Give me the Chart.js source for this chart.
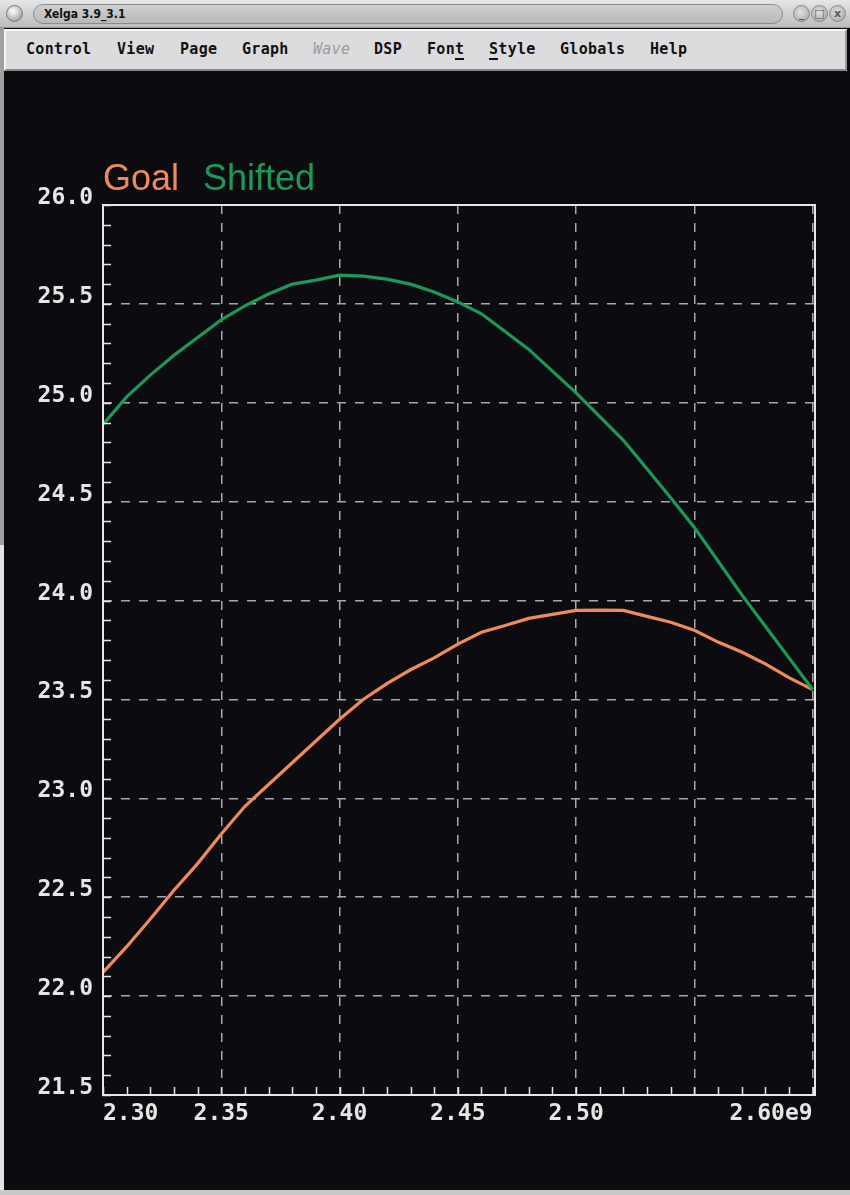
<!DOCTYPE html>
<html>
<head>
<meta charset="utf-8">
<title>Xelga 3.9_3.1</title>
<script src="https://cdn.jsdelivr.net/npm/chart.js@4/dist/chart.umd.min.js"></script>
<style>
  html, body { margin: 0; padding: 0; }
  body { width: 850px; height: 1195px; overflow: hidden; background: #0c0b10; position: relative; font-family: "DejaVu Sans", sans-serif; }
  #titlebar { position: absolute; left: 0; top: 0; width: 850px; height: 28px;
    background: linear-gradient(#e6e6e6, #bdbdbd); border-bottom: 1px solid #9a9a9a; box-sizing: border-box; }
  #wmbtn { position: absolute; left: 6px; top: 5px; width: 17px; height: 17px; border-radius: 50%;
    background: radial-gradient(circle at 40% 35%, #ffffff 0%, #d0d0d0 40%, #8a8a8a 100%); border: 1px solid #7a7a7a; box-sizing: border-box; }
  #caption { position: absolute; left: 33px; top: 4px; width: 750px; height: 20px; border-radius: 10px;
    background: linear-gradient(#cfcfcf, #b9b9b9); border: 1px solid #8c8c8c; box-sizing: border-box;
    font: bold 12px "DejaVu Sans Condensed", "DejaVu Sans", sans-serif; color: #111; line-height: 18px; padding-left: 10px; }
  .wbtn { position: absolute; top: 5px; width: 17px; height: 17px; border-radius: 50%;
    background: radial-gradient(circle at 45% 40%, #e2e2e2 0%, #b4b4b4 70%, #8e8e8e 100%); border: 1px solid #8a8a8a; box-sizing: border-box;
    font: bold 11px "DejaVu Sans", sans-serif; color: #555; text-align: center; line-height: 15px; }
  #menubar { position: absolute; left: 4px; top: 29px; width: 843px; height: 42px; background: #dcdcdf;
    border-top: 2px solid #f6f6f6; border-left: 2px solid #f6f6f6; border-right: 2px solid #9a9a9a; border-bottom: 2px solid #8a8a8a; box-sizing: border-box; }
  .mi { position: absolute; top: 9px; font: bold 15px "DejaVu Sans Mono", monospace; color: #111; letter-spacing: 0.3px; }
  .mi.off { color: #9a9a9a; font-style: italic; font-weight: normal; }
  .mi u { text-decoration: none; border-bottom: 2px solid #111; }
  #leftframe1 { position: absolute; left: 0; top: 28px; width: 4px; height: 517px; background: #a0a0a0; }
  #leftframe2 { position: absolute; left: 0; top: 545px; width: 4px; height: 650px; background: #e4e4e4; }
  #bottomframe { position: absolute; left: 0; top: 1190px; width: 850px; height: 5px; background: #c8c8c8; }
  #plot { position: absolute; left: 0; top: 72px; }
</style>
</head>
<body>
<div id="titlebar">
  <div id="wmbtn"></div>
  <div id="caption">Xelga 3.9_3.1</div>
  <div class="wbtn" style="left:793px">_</div>
  <div class="wbtn" style="left:811px">□</div>
  <div class="wbtn" style="left:829px">x</div>
</div>
<div id="menubar">
  <span class="mi" style="left:20px">Control</span>
  <span class="mi" style="left:111px">View</span>
  <span class="mi" style="left:174px">Page</span>
  <span class="mi" style="left:236px">Graph</span>
  <span class="mi off" style="left:307px">Wave</span>
  <span class="mi" style="left:368px">DSP</span>
  <span class="mi" style="left:421px">Fon<u>t</u></span>
  <span class="mi" style="left:483px"><u>S</u>tyle</span>
  <span class="mi" style="left:554px">Globals</span>
  <span class="mi" style="left:644px">Help</span>
</div>
<div id="leftframe1"></div>
<div id="leftframe2"></div>
<div id="bottomframe"></div>
<canvas id="plot" width="850" height="1118"></canvas>

<script>
// Frequency sweep (GHz); the axis labels carry the e9 exponent.
const freqGHz = [2.30, 2.31, 2.32, 2.33, 2.34, 2.35, 2.36, 2.37, 2.38, 2.39,
                 2.40, 2.41, 2.42, 2.43, 2.44, 2.45, 2.46, 2.47, 2.48, 2.49,
                 2.50, 2.51, 2.52, 2.53, 2.54, 2.55, 2.56, 2.57, 2.58, 2.59, 2.60];

// Goal response
const goal = [22.12, 22.25, 22.39, 22.535, 22.67, 22.82, 22.96, 23.07, 23.18, 23.29,
              23.40, 23.50, 23.58, 23.65, 23.71, 23.78, 23.84, 23.874, 23.91, 23.93,
              23.95, 23.952, 23.95, 23.92, 23.89, 23.85, 23.79, 23.74, 23.68, 23.61, 23.55];

// Shifted response
const shifted = [24.89, 25.03, 25.14, 25.24, 25.33, 25.42, 25.49, 25.55, 25.60, 25.62,
                 25.645, 25.64, 25.625, 25.60, 25.56, 25.51, 25.45, 25.36, 25.27, 25.16,
                 25.05, 24.93, 24.81, 24.665, 24.52, 24.37, 24.20, 24.03, 23.87, 23.71, 23.55];

const seriesNames = ['Goal', 'Shifted'];
const seriesColors = ['#f08a59', '#1b9a57'];

const xTickValues = [2.30, 2.35, 2.40, 2.45, 2.50, 2.55, 2.60];
const xTickLabels = ['2.30', '2.35', '2.40', '2.45', '2.50', '', '2.60e9'];
const yTickValues = [21.5, 22.0, 22.5, 23.0, 23.5, 24.0, 24.5, 25.0, 25.5, 26.0];
const yTickLabels = ['21.5', '22.0', '22.5', '23.0', '23.5', '24.0', '24.5', '25.0', '25.5', '26.0'];

const FG = '#e6e6e6';
const GRID = '#a8a8ac';
const TICK_FONT = { family: '"DejaVu Sans Mono", monospace', size: 23, weight: 'bold' };

// Frame around the plot plus short inner minor ticks on the left and bottom edges.
const framePlugin = {
  id: 'frame',
  afterDatasetsDraw(chart) {
    const { ctx, chartArea: a, scales } = chart;
    ctx.save();
    ctx.strokeStyle = FG;
    ctx.lineWidth = 2;
    ctx.strokeRect(a.left, a.top, a.right - a.left, a.bottom - a.top);
    ctx.lineWidth = 1.5;
    ctx.beginPath();
    const ys = scales.y;
    for (let k = 0; k <= 45; k++) {
      const py = Math.round(ys.getPixelForValue(21.5 + k * 0.1)) + 0.5;
      ctx.moveTo(a.left, py);
      ctx.lineTo(a.left + 8, py);
    }
    const xs = scales.x;
    for (let k = 0; k <= 30; k++) {
      const px = Math.round(xs.getPixelForValue(2.30 + k * 0.01)) + 0.5;
      ctx.moveTo(px, a.bottom);
      ctx.lineTo(px, a.bottom - 8);
    }
    ctx.stroke();
    ctx.restore();
  }
};

// Series names written in their own colours above the plot.
const keyPlugin = {
  id: 'seriesKey',
  afterDraw(chart) {
    const { ctx, chartArea: a } = chart;
    ctx.save();
    ctx.font = '36px "Liberation Sans", Arial, sans-serif';
    ctx.textBaseline = 'alphabetic';
    ctx.textAlign = 'left';
    let x = a.left;
    chart.data.datasets.forEach(ds => {
      ctx.fillStyle = ds.borderColor;
      ctx.fillText(ds.label, x, a.top - 15);
      x += ctx.measureText(ds.label).width + 24;
    });
    ctx.restore();
  }
};

const toPoints = ys => freqGHz.map((f, i) => ({ x: f, y: ys[i] }));

new Chart(document.getElementById('plot'), {
  type: 'line',
  data: {
    datasets: [
      { label: seriesNames[0], data: toPoints(goal), borderColor: seriesColors[0], borderWidth: 3.2, pointRadius: 0, tension: 0, order: 1 },
      { label: seriesNames[1], data: toPoints(shifted), borderColor: seriesColors[1], borderWidth: 3.2, pointRadius: 0, tension: 0, order: 0 }
    ]
  },
  options: {
    responsive: false,
    devicePixelRatio: 1,
    animation: false,
    layout: { padding: { top: 133, left: 0, right: 35, bottom: 45 } },
    plugins: { legend: { display: false }, tooltip: { enabled: false } },
    scales: {
      x: {
        type: 'linear',
        min: 2.30,
        max: 2.601,
        afterBuildTicks: s => { s.ticks = xTickValues.map(v => ({ value: v })); },
        afterFit: s => { s.height = 50; s.paddingLeft = 0; s.paddingRight = 0; },
        ticks: {
          color: FG,
          font: TICK_FONT,
          padding: 5,
          align: 'inner',
          maxRotation: 0,
          autoSkip: false,
          callback: (v, i) => xTickLabels[i]
        },
        grid: {
          drawTicks: false,
          lineWidth: 1.5,
          color: c => (c.index === 0 ? 'rgba(0,0,0,0)' : GRID)
        },
        border: { display: false, dash: [9, 9] }
      },
      y: {
        type: 'linear',
        min: 21.5,
        max: 26.0,
        afterBuildTicks: s => { s.ticks = yTickValues.map(v => ({ value: v })); },
        afterFit: s => { s.width = 103; s.paddingTop = 0; s.paddingBottom = 0; },
        ticks: {
          color: FG,
          font: TICK_FONT,
          padding: 10,
          labelOffset: -7,
          autoSkip: false,
          callback: (v, i) => yTickLabels[i]
        },
        grid: {
          drawTicks: false,
          lineWidth: 1.5,
          color: c => (c.index === 0 || c.index === yTickValues.length - 1 ? 'rgba(0,0,0,0)' : GRID)
        },
        border: { display: false, dash: [9, 9] }
      }
    }
  },
  plugins: [framePlugin, keyPlugin]
});
</script>
</body>
</html>
